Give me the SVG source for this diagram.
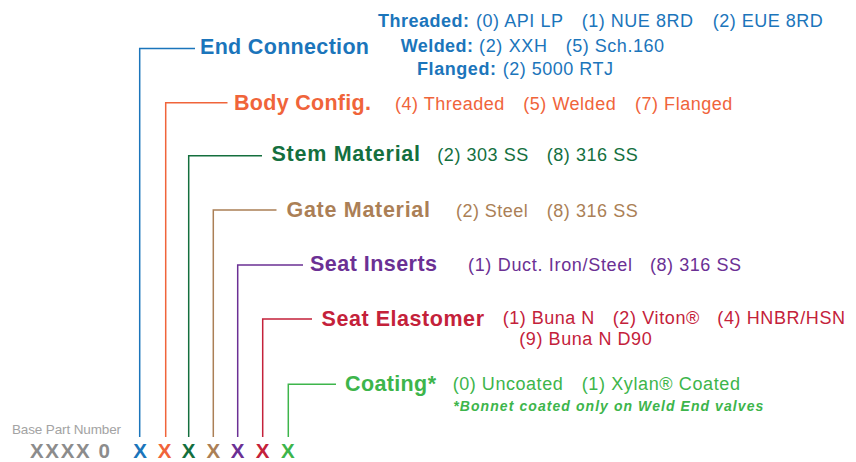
<svg xmlns="http://www.w3.org/2000/svg" width="856" height="462" viewBox="0 0 856 462">
<style>
text{font-family:"Liberation Sans",Arial,Helvetica,sans-serif}
.h{font-size:21.5px;font-weight:bold}
.o{font-size:18px}
.ob{font-size:18px;font-weight:bold}
.x{font-size:20.5px;font-weight:bold;text-anchor:middle}
.c{fill:none;stroke-width:1.5}
.blue{fill:#1b75bb}.orange{fill:#f0643a}.dgreen{fill:#146f3e}.brown{fill:#ab7f56}.purple{fill:#6b3094}.red{fill:#c4213a}.lgreen{fill:#3db54b}
</style>
<rect width="856" height="462" fill="#ffffff"/>
<g id="connectors">
<polyline class="c" stroke="#1b75bb" points="139.7,437 139.7,48.5 195,48.5"/>
<polyline class="c" stroke="#f0643a" points="165.7,437 165.7,102.7 227.5,102.7"/>
<polyline class="c" stroke="#146f3e" points="188.7,437 188.7,155.7 262,155.7"/>
<polyline class="c" stroke="#ab7f56" points="213.3,437 213.3,210 276.5,210"/>
<polyline class="c" stroke="#6b3094" points="237.7,437 237.7,265 303,265"/>
<polyline class="c" stroke="#c4213a" points="262.7,437 262.7,319 312,319"/>
<polyline class="c" stroke="#3db54b" points="288.3,437 288.3,384.3 336,384.3"/>
</g>
<g id="end-connection" class="blue">
<text class="h" x="200" y="54" textLength="169" lengthAdjust="spacing">End Connection</text>
<text class="ob" x="378" y="26.7" textLength="91" lengthAdjust="spacing">Threaded:</text>
<text class="o" x="476" y="26.7" textLength="87" lengthAdjust="spacing">(0) API LP</text>
<text class="o" x="581.7" y="26.7" textLength="111.3" lengthAdjust="spacing">(1) NUE 8RD</text>
<text class="o" x="712.7" y="26.7" textLength="110" lengthAdjust="spacing">(2) EUE 8RD</text>
<text class="ob" x="400.7" y="52" textLength="72.3" lengthAdjust="spacing">Welded:</text>
<text class="o" x="479" y="52" textLength="68" lengthAdjust="spacing">(2) XXH</text>
<text class="o" x="565.7" y="52" textLength="98.3" lengthAdjust="spacing">(5) Sch.160</text>
<text class="ob" x="417" y="75" textLength="79" lengthAdjust="spacing">Flanged:</text>
<text class="o" x="502.7" y="75" textLength="110.3" lengthAdjust="spacing">(2) 5000 RTJ</text>
</g>
<g id="body-config" class="orange">
<text class="h" x="234" y="110" textLength="137" lengthAdjust="spacing">Body Config.</text>
<text class="o" x="395" y="110" textLength="109.3" lengthAdjust="spacing">(4) Threaded</text>
<text class="o" x="523.3" y="110" textLength="92.4" lengthAdjust="spacing">(5) Welded</text>
<text class="o" x="635" y="110" textLength="97.3" lengthAdjust="spacing">(7) Flanged</text>
</g>
<g id="stem-material" class="dgreen">
<text class="h" x="271.5" y="161" textLength="148.5" lengthAdjust="spacing">Stem Material</text>
<text class="o" x="437.3" y="160.5" textLength="91" lengthAdjust="spacing">(2) 303 SS</text>
<text class="o" x="546.7" y="160.5" textLength="91" lengthAdjust="spacing">(8) 316 SS</text>
</g>
<g id="gate-material" class="brown">
<text class="h" x="286.5" y="217" textLength="143.5" lengthAdjust="spacing">Gate Material</text>
<text class="o" x="456" y="216.5" textLength="71.7" lengthAdjust="spacing">(2) Steel</text>
<text class="o" x="546.7" y="216.5" textLength="91" lengthAdjust="spacing">(8) 316 SS</text>
</g>
<g id="seat-inserts" class="purple">
<text class="h" x="310" y="271" textLength="127" lengthAdjust="spacing">Seat Inserts</text>
<text class="o" x="468" y="271" textLength="164" lengthAdjust="spacing">(1) Duct. Iron/Steel</text>
<text class="o" x="650" y="271" textLength="91" lengthAdjust="spacing">(8) 316 SS</text>
</g>
<g id="seat-elastomer" class="red">
<text class="h" x="321.5" y="326" textLength="162.5" lengthAdjust="spacing">Seat Elastomer</text>
<text class="o" x="502.7" y="323.5" textLength="91.6" lengthAdjust="spacing">(1) Buna N</text>
<text class="o" x="612.7" y="323.5" textLength="86.6" lengthAdjust="spacing">(2) Viton®</text>
<text class="o" x="717.3" y="323.5" textLength="127.7" lengthAdjust="spacing">(4) HNBR/HSN</text>
<text class="o" x="519.3" y="344.5" textLength="132.4" lengthAdjust="spacing">(9) Buna N D90</text>
</g>
<g id="coating" class="lgreen">
<text class="h" x="345" y="391" textLength="91" lengthAdjust="spacing">Coating*</text>
<text class="o" x="452.7" y="389.5" textLength="110" lengthAdjust="spacing">(0) Uncoated</text>
<text class="o" x="581.7" y="389.5" textLength="158.3" lengthAdjust="spacing">(1) Xylan® Coated</text>
<text x="453.3" y="411" font-size="14" font-weight="bold" font-style="italic" textLength="310" lengthAdjust="spacing">*Bonnet coated only on Weld End valves</text>
</g>
<g id="base-part-number">
<text x="12" y="433.5" font-size="13.5" fill="#a3a3a3" textLength="109" lengthAdjust="spacing">Base Part Number</text>
<text x="30" y="458" font-size="20.5" font-weight="bold" fill="#8c8c8c" textLength="80" lengthAdjust="spacing">XXXX 0</text>
</g>
<g id="code-letters">
<text class="x blue" x="140" y="458">X</text>
<text class="x orange" x="164.5" y="458">X</text>
<text class="x dgreen" x="188.5" y="458">X</text>
<text class="x brown" x="213.3" y="458">X</text>
<text class="x purple" x="237.7" y="458">X</text>
<text class="x red" x="262.7" y="458">X</text>
<text class="x lgreen" x="287.8" y="458">X</text>
</g>
</svg>
